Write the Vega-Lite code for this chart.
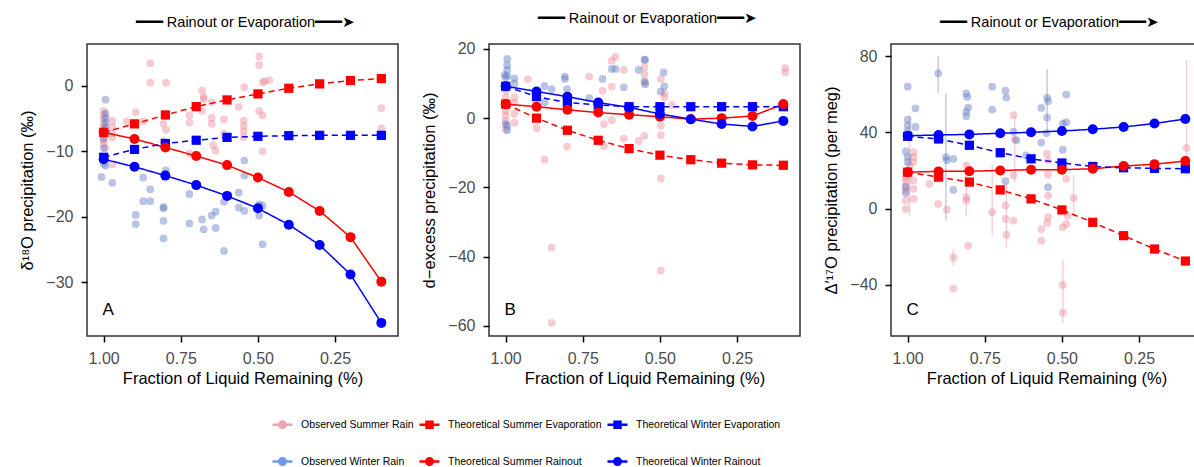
{
  "$schema": "https://vega.github.io/schema/vega-lite/v6.json",
  "background": "white",
  "padding": {"left": 19, "top": 10, "right": 0, "bottom": 0},
  "spacing": 91,
  "bounds": "flush",
  "config": {
    "font": "Liberation Sans",
    "view": {"stroke": "#333333", "strokeWidth": 1.5},
    "axis": {"grid": false, "domain": false, "tickColor": "#000000", "tickSize": 6, "tickWidth": 1.5, "labelFontSize": 16, "labelColor": "#4d4d4d", "labelFont": "Liberation Sans", "titleFont": "Liberation Sans", "titleFontSize": 16.5, "titleFontWeight": "normal", "titleColor": "#000000", "labelPadding": 8, "labelFlush": false},
    "axisY": {"titlePadding": 10},
    "title": {"font": "Liberation Sans", "fontSize": 14.5, "fontWeight": "normal", "color": "#000000", "anchor": "middle", "offset": 14},
    "legend": {"columns": 3, "direction": "horizontal", "padding": 0, "symbolSize": 400, "symbolStrokeWidth": 2.5, "symbolOpacity": 1, "labelFont": "Liberation Sans", "labelFontSize": 10.5, "labelColor": "#000000", "labelOffset": 7, "rowPadding": 17, "columnPadding": 0, "labelLimit": 300}
  },
  "datasets": {
    "theory": [
      {"p":"A","f":1.0,"SE":-7.1,"SR":-7.1,"WE":-10.9,"WR":-11.2},
      {"p":"A","f":0.9,"SE":-5.8,"SR":-8.1,"WE":-9.7,"WR":-12.35},
      {"p":"A","f":0.8,"SE":-4.44,"SR":-9.4,"WE":-8.8,"WR":-13.7},
      {"p":"A","f":0.7,"SE":-3.16,"SR":-10.7,"WE":-8.3,"WR":-15.15},
      {"p":"A","f":0.6,"SE":-2.14,"SR":-12.1,"WE":-7.86,"WR":-16.8},
      {"p":"A","f":0.5,"SE":-1.22,"SR":-14.0,"WE":-7.7,"WR":-18.7},
      {"p":"A","f":0.4,"SE":-0.36,"SR":-16.2,"WE":-7.6,"WR":-21.2},
      {"p":"A","f":0.3,"SE":0.31,"SR":-19.1,"WE":-7.55,"WR":-24.3},
      {"p":"A","f":0.2,"SE":0.82,"SR":-23.1,"WE":-7.55,"WR":-28.8},
      {"p":"A","f":0.1,"SE":1.12,"SR":-29.9,"WE":-7.55,"WR":-36.2},
      {"p":"B","f":1.0,"SE":4.05,"SR":4.05,"WE":9.2,"WR":9.2},
      {"p":"B","f":0.9,"SE":0.0,"SR":3.3,"WE":6.2,"WR":7.7},
      {"p":"B","f":0.8,"SE":-3.5,"SR":2.4,"WE":4.5,"WR":6.2},
      {"p":"B","f":0.7,"SE":-6.4,"SR":1.6,"WE":3.8,"WR":4.5},
      {"p":"B","f":0.6,"SE":-8.8,"SR":1.0,"WE":3.3,"WR":3.1},
      {"p":"B","f":0.5,"SE":-10.7,"SR":0.4,"WE":3.3,"WR":1.2},
      {"p":"B","f":0.4,"SE":-12.0,"SR":-0.3,"WE":3.3,"WR":-0.3},
      {"p":"B","f":0.3,"SE":-13.0,"SR":0.0,"WE":3.3,"WR":-1.7},
      {"p":"B","f":0.2,"SE":-13.5,"SR":0.6,"WE":3.3,"WR":-2.4},
      {"p":"B","f":0.1,"SE":-13.6,"SR":4.05,"WE":3.3,"WR":-0.8},
      {"p":"C","f":1.0,"SE":19.1,"SR":19.1,"WE":37.9,"WR":38.2},
      {"p":"C","f":0.9,"SE":16.5,"SR":19.5,"WE":36.5,"WR":38.6},
      {"p":"C","f":0.8,"SE":13.9,"SR":19.6,"WE":33.2,"WR":38.9},
      {"p":"C","f":0.7,"SE":9.8,"SR":20.0,"WE":29.3,"WR":39.5},
      {"p":"C","f":0.6,"SE":5.1,"SR":20.4,"WE":26.1,"WR":40.0},
      {"p":"C","f":0.5,"SE":-0.7,"SR":20.4,"WE":23.9,"WR":40.7},
      {"p":"C","f":0.4,"SE":-7.2,"SR":20.9,"WE":22.1,"WR":41.6},
      {"p":"C","f":0.3,"SE":-14.2,"SR":22.3,"WE":21.4,"WR":42.8},
      {"p":"C","f":0.2,"SE":-21.2,"SR":23.3,"WE":21.1,"WR":44.6},
      {"p":"C","f":0.1,"SE":-27.5,"SR":24.9,"WE":20.9,"WR":47.0}
    ],
    "labels": [
      {"p":"A","t":"A","f":1.004,"v":-34.2},
      {"p":"B","t":"B","f":1.004,"v":-55.5},
      {"p":"C","t":"C","f":1.004,"v":-53.3}
    ],
    "obs": [
      {"p":"A","s":"OS","f":1.0,"v":-3.8},{"p":"A","s":"OS","f":1.0,"v":-4.5},{"p":"A","s":"OS","f":1.0,"v":-5.1},{"p":"A","s":"OS","f":1.0,"v":-5.8},{"p":"A","s":"OS","f":1.0,"v":-6.3},{"p":"A","s":"OS","f":1.0,"v":-6.9},{"p":"A","s":"OS","f":1.0,"v":-7.5},{"p":"A","s":"OS","f":1.0,"v":-8.3},{"p":"A","s":"OS","f":1.0,"v":-8.8},{"p":"A","s":"OS","f":0.994,"v":-9.5},
      {"p":"A","s":"OS","f":0.972,"v":-5.3},{"p":"A","s":"OS","f":0.972,"v":-6.3},{"p":"A","s":"OS","f":0.972,"v":-7.3},{"p":"A","s":"OS","f":0.972,"v":-7.8},{"p":"A","s":"OS","f":0.972,"v":-12.0},
      {"p":"A","s":"OS","f":0.926,"v":-5.4},{"p":"A","s":"OS","f":0.896,"v":-4.0},{"p":"A","s":"OS","f":0.872,"v":-5.4},{"p":"A","s":"OS","f":0.849,"v":3.47},{"p":"A","s":"OS","f":0.849,"v":0.5},{"p":"A","s":"OS","f":0.798,"v":0.5},
      {"p":"A","s":"OS","f":0.806,"v":-5.8},{"p":"A","s":"OS","f":0.798,"v":-6.7},{"p":"A","s":"OS","f":0.806,"v":-8.4},{"p":"A","s":"OS","f":0.722,"v":-4.5},{"p":"A","s":"OS","f":0.722,"v":-5.6},{"p":"A","s":"OS","f":0.722,"v":-10.3},
      {"p":"A","s":"OS","f":0.681,"v":-0.7},{"p":"A","s":"OS","f":0.676,"v":-1.7},{"p":"A","s":"OS","f":0.676,"v":-2.0},{"p":"A","s":"OS","f":0.681,"v":-3.8},{"p":"A","s":"OS","f":0.65,"v":-2.5},{"p":"A","s":"OS","f":0.65,"v":-4.9},{"p":"A","s":"OS","f":0.65,"v":-5.8},{"p":"A","s":"OS","f":0.645,"v":-9.1},{"p":"A","s":"OS","f":0.637,"v":-9.9},
      {"p":"A","s":"OS","f":0.61,"v":-5.1},{"p":"A","s":"OS","f":0.61,"v":-7.3},{"p":"A","s":"OS","f":0.562,"v":-3.2},{"p":"A","s":"OS","f":0.544,"v":-0.2},{"p":"A","s":"OS","f":0.546,"v":-5.3},{"p":"A","s":"OS","f":0.546,"v":-6.1},{"p":"A","s":"OS","f":0.546,"v":-6.9},{"p":"A","s":"OS","f":0.546,"v":-7.8},
      {"p":"A","s":"OS","f":0.496,"v":4.5},{"p":"A","s":"OS","f":0.496,"v":3.2},{"p":"A","s":"OS","f":0.484,"v":0.56},{"p":"A","s":"OS","f":0.478,"v":0.7},{"p":"A","s":"OS","f":0.463,"v":0.9},{"p":"A","s":"OS","f":0.496,"v":-3.8},{"p":"A","s":"OS","f":0.485,"v":-4.5},{"p":"A","s":"OS","f":0.485,"v":-10.0},
      {"p":"A","s":"OS","f":0.1,"v":-3.4},{"p":"A","s":"OS","f":0.1,"v":-6.5},
      {"p":"A","s":"OW","f":0.994,"v":-2.1},{"p":"A","s":"OW","f":0.994,"v":-4.2},{"p":"A","s":"OW","f":0.994,"v":-4.9},{"p":"A","s":"OW","f":0.994,"v":-5.6},{"p":"A","s":"OW","f":0.994,"v":-6.3},{"p":"A","s":"OW","f":1.0,"v":-8.0},{"p":"A","s":"OW","f":1.0,"v":-9.5},{"p":"A","s":"OW","f":1.0,"v":-11.9},{"p":"A","s":"OW","f":0.994,"v":-12.2},{"p":"A","s":"OW","f":1.007,"v":-13.9},{"p":"A","s":"OW","f":0.972,"v":-14.8},
      {"p":"A","s":"OW","f":0.872,"v":-14.0},{"p":"A","s":"OW","f":0.849,"v":-15.8},{"p":"A","s":"OW","f":0.872,"v":-17.6},{"p":"A","s":"OW","f":0.849,"v":-17.6},{"p":"A","s":"OW","f":0.896,"v":-19.7},{"p":"A","s":"OW","f":0.896,"v":-21.1},
      {"p":"A","s":"OW","f":0.798,"v":-12.9},{"p":"A","s":"OW","f":0.806,"v":-18.5},{"p":"A","s":"OW","f":0.806,"v":-18.7},{"p":"A","s":"OW","f":0.806,"v":-20.6},{"p":"A","s":"OW","f":0.806,"v":-23.3},
      {"p":"A","s":"OW","f":0.722,"v":-16.5},{"p":"A","s":"OW","f":0.722,"v":-21.0},{"p":"A","s":"OW","f":0.681,"v":-20.4},{"p":"A","s":"OW","f":0.676,"v":-21.9},{"p":"A","s":"OW","f":0.65,"v":-19.8},{"p":"A","s":"OW","f":0.637,"v":-19.2},{"p":"A","s":"OW","f":0.637,"v":-21.7},
      {"p":"A","s":"OW","f":0.61,"v":-17.7},{"p":"A","s":"OW","f":0.61,"v":-25.2},{"p":"A","s":"OW","f":0.562,"v":-16.3},{"p":"A","s":"OW","f":0.562,"v":-18.6},{"p":"A","s":"OW","f":0.544,"v":-11.4},{"p":"A","s":"OW","f":0.544,"v":-13.7},{"p":"A","s":"OW","f":0.544,"v":-19.1},
      {"p":"A","s":"OW","f":0.496,"v":-18.1},{"p":"A","s":"OW","f":0.485,"v":-18.3},{"p":"A","s":"OW","f":0.496,"v":-19.8},{"p":"A","s":"OW","f":0.485,"v":-24.2},
      {"p":"B","s":"OS","f":1.0,"v":7.9},{"p":"B","s":"OS","f":1.0,"v":6.0},{"p":"B","s":"OS","f":1.0,"v":3.6},{"p":"B","s":"OS","f":1.0,"v":2.1},{"p":"B","s":"OS","f":1.0,"v":0.7},{"p":"B","s":"OS","f":1.0,"v":-0.8},{"p":"B","s":"OS","f":1.0,"v":-3.2},{"p":"B","s":"OS","f":0.972,"v":6.0},{"p":"B","s":"OS","f":0.972,"v":4.5},{"p":"B","s":"OS","f":0.972,"v":1.2},{"p":"B","s":"OS","f":0.972,"v":-1.3},
      {"p":"B","s":"OS","f":0.928,"v":11.2},{"p":"B","s":"OS","f":0.899,"v":-2.9},{"p":"B","s":"OS","f":0.874,"v":-12.0},{"p":"B","s":"OS","f":0.851,"v":-37.4},{"p":"B","s":"OS","f":0.851,"v":-59.1},{"p":"B","s":"OS","f":0.801,"v":-8.2},
      {"p":"B","s":"OS","f":0.729,"v":12.0},{"p":"B","s":"OS","f":0.686,"v":7.9},{"p":"B","s":"OS","f":0.681,"v":-1.7},{"p":"B","s":"OS","f":0.681,"v":-8.0},{"p":"B","s":"OS","f":0.656,"v":16.6},{"p":"B","s":"OS","f":0.644,"v":17.7},{"p":"B","s":"OS","f":0.656,"v":9.1},{"p":"B","s":"OS","f":0.656,"v":-0.6},
      {"p":"B","s":"OS","f":0.617,"v":13.9},{"p":"B","s":"OS","f":0.617,"v":-5.9},{"p":"B","s":"OS","f":0.569,"v":-6.6},{"p":"B","s":"OS","f":0.55,"v":-5.1},{"p":"B","s":"OS","f":0.55,"v":12.7},{"p":"B","s":"OS","f":0.55,"v":14.7},{"p":"B","s":"OS","f":0.548,"v":10.3},
      {"p":"B","s":"OS","f":0.497,"v":11.3},{"p":"B","s":"OS","f":0.486,"v":7.2},{"p":"B","s":"OS","f":0.486,"v":6.0},{"p":"B","s":"OS","f":0.462,"v":3.8},{"p":"B","s":"OS","f":0.497,"v":-2.2},{"p":"B","s":"OS","f":0.497,"v":-4.9},{"p":"B","s":"OS","f":0.497,"v":-17.4},{"p":"B","s":"OS","f":0.497,"v":-44.0},
      {"p":"B","s":"OS","f":0.094,"v":14.5},{"p":"B","s":"OS","f":0.094,"v":13.2},
      {"p":"B","s":"OW","f":0.995,"v":17.1},{"p":"B","s":"OW","f":0.995,"v":15.3},{"p":"B","s":"OW","f":0.995,"v":13.9},{"p":"B","s":"OW","f":1.003,"v":12.5},{"p":"B","s":"OW","f":0.995,"v":12.2},{"p":"B","s":"OW","f":1.0,"v":11.8},{"p":"B","s":"OW","f":0.972,"v":11.5},{"p":"B","s":"OW","f":0.972,"v":10.0},{"p":"B","s":"OW","f":1.0,"v":-1.7},{"p":"B","s":"OW","f":0.995,"v":-2.2},{"p":"B","s":"OW","f":0.995,"v":-3.5},
      {"p":"B","s":"OW","f":0.874,"v":9.3},{"p":"B","s":"OW","f":0.851,"v":8.4},{"p":"B","s":"OW","f":0.874,"v":4.5},{"p":"B","s":"OW","f":0.808,"v":12.0},{"p":"B","s":"OW","f":0.808,"v":11.3},{"p":"B","s":"OW","f":0.801,"v":8.4},{"p":"B","s":"OW","f":0.729,"v":5.8},{"p":"B","s":"OW","f":0.686,"v":11.3},{"p":"B","s":"OW","f":0.656,"v":14.2},{"p":"B","s":"OW","f":0.644,"v":14.2},{"p":"B","s":"OW","f":0.617,"v":8.9},{"p":"B","s":"OW","f":0.569,"v":13.9},{"p":"B","s":"OW","f":0.55,"v":16.9},{"p":"B","s":"OW","f":0.548,"v":16.8},{"p":"B","s":"OW","f":0.55,"v":10.6},{"p":"B","s":"OW","f":0.548,"v":9.8},{"p":"B","s":"OW","f":0.488,"v":13.2},{"p":"B","s":"OW","f":0.486,"v":9.2},{"p":"B","s":"OW","f":0.497,"v":7.7},
      {"p":"C","s":"OS","f":1.006,"v":16.5},{"p":"C","s":"OS","f":1.006,"v":14.7},{"p":"C","s":"OS","f":1.006,"v":12.1},{"p":"C","s":"OS","f":1.006,"v":9.5},{"p":"C","s":"OS","f":1.006,"v":4.2},{"p":"C","s":"OS","f":1.006,"v":-0.2},{"p":"C","s":"OS","f":0.994,"v":22.6,"lo":-3.7,"hi":49},
      {"p":"C","s":"OS","f":0.981,"v":29.6},{"p":"C","s":"OS","f":0.981,"v":27.0},{"p":"C","s":"OS","f":0.981,"v":24.4},{"p":"C","s":"OS","f":0.981,"v":14.7},{"p":"C","s":"OS","f":0.981,"v":10.4},{"p":"C","s":"OS","f":0.981,"v":5.1},
      {"p":"C","s":"OS","f":0.93,"v":13.0},{"p":"C","s":"OS","f":0.901,"v":2.5},{"p":"C","s":"OS","f":0.873,"v":-0.5},{"p":"C","s":"OS","f":0.852,"v":-25.6,"lo":-30,"hi":-21.3},{"p":"C","s":"OS","f":0.852,"v":-41.9},
      {"p":"C","s":"OS","f":0.81,"v":22.6},{"p":"C","s":"OS","f":0.81,"v":6.0,"lo":-3.9,"hi":24},{"p":"C","s":"OS","f":0.81,"v":4.2},{"p":"C","s":"OS","f":0.804,"v":-19.5},
      {"p":"C","s":"OS","f":0.726,"v":-1.9,"lo":-13.7,"hi":23},{"p":"C","s":"OS","f":0.683,"v":1.6},{"p":"C","s":"OS","f":0.683,"v":-5.4},{"p":"C","s":"OS","f":0.68,"v":-13.7,"lo":-20.6,"hi":13.5},{"p":"C","s":"OS","f":0.653,"v":36.4,"lo":13.5,"hi":48.7},{"p":"C","s":"OS","f":0.657,"v":49},{"p":"C","s":"OS","f":0.657,"v":17.4},{"p":"C","s":"OS","f":0.657,"v":-6.3},
      {"p":"C","s":"OS","f":0.548,"v":28.8},{"p":"C","s":"OS","f":0.545,"v":25.3},{"p":"C","s":"OS","f":0.545,"v":17.9},{"p":"C","s":"OS","f":0.545,"v":6.8},{"p":"C","s":"OS","f":0.545,"v":-4.6},{"p":"C","s":"OS","f":0.548,"v":-7.5},{"p":"C","s":"OS","f":0.567,"v":-10.7},{"p":"C","s":"OS","f":0.567,"v":-16.8},
      {"p":"C","s":"OS","f":0.497,"v":-9.8},{"p":"C","s":"OS","f":0.497,"v":-40.0,"lo":-60,"hi":-27},{"p":"C","s":"OS","f":0.497,"v":-54.6},{"p":"C","s":"OS","f":0.486,"v":15.6},{"p":"C","s":"OS","f":0.481,"v":-3.7},{"p":"C","s":"OS","f":0.486,"v":-8.1},{"p":"C","s":"OS","f":0.462,"v":5.6,"lo":-4,"hi":17.6},
      {"p":"C","s":"OS","f":0.096,"v":31.9,"lo":17.3,"hi":78},
      {"p":"C","s":"OW","f":1.0,"v":63.9},{"p":"C","s":"OW","f":1.0,"v":46.7},{"p":"C","s":"OW","f":1.0,"v":43.7},{"p":"C","s":"OW","f":1.0,"v":40.7},{"p":"C","s":"OW","f":1.006,"v":30.0},{"p":"C","s":"OW","f":1.0,"v":27.0},{"p":"C","s":"OW","f":1.0,"v":24.4},{"p":"C","s":"OW","f":1.006,"v":8.1},{"p":"C","s":"OW","f":1.006,"v":11.2},{"p":"C","s":"OW","f":0.975,"v":52.5},{"p":"C","s":"OW","f":0.975,"v":42.8},
      {"p":"C","s":"OW","f":0.901,"v":70.9,"lo":60.7,"hi":80},{"p":"C","s":"OW","f":0.876,"v":27.0,"lo":-6.3,"hi":60.4},{"p":"C","s":"OW","f":0.873,"v":25.3},{"p":"C","s":"OW","f":0.852,"v":26.1},{"p":"C","s":"OW","f":0.852,"v":9.8},
      {"p":"C","s":"OW","f":0.81,"v":60.4},{"p":"C","s":"OW","f":0.807,"v":58.6},{"p":"C","s":"OW","f":0.804,"v":53.0},{"p":"C","s":"OW","f":0.81,"v":50.7},{"p":"C","s":"OW","f":0.81,"v":48.4},{"p":"C","s":"OW","f":0.726,"v":63.9},{"p":"C","s":"OW","f":0.726,"v":51.9},{"p":"C","s":"OW","f":0.683,"v":61.8},{"p":"C","s":"OW","f":0.68,"v":58.2},{"p":"C","s":"OW","f":0.657,"v":40.4},{"p":"C","s":"OW","f":0.648,"v":35.8},{"p":"C","s":"OW","f":0.683,"v":14.4},{"p":"C","s":"OW","f":0.616,"v":27.9},{"p":"C","s":"OW","f":0.55,"v":39.6},
      {"p":"C","s":"OW","f":0.548,"v":58.1,"lo":39.6,"hi":73},{"p":"C","s":"OW","f":0.545,"v":56.3},{"p":"C","s":"OW","f":0.567,"v":52.8},{"p":"C","s":"OW","f":0.548,"v":47.7},{"p":"C","s":"OW","f":0.567,"v":34.6},{"p":"C","s":"OW","f":0.545,"v":11.2},{"p":"C","s":"OW","f":0.497,"v":44.6},{"p":"C","s":"OW","f":0.486,"v":45.3},{"p":"C","s":"OW","f":0.486,"v":59.8},{"p":"C","s":"OW","f":0.497,"v":30.9}
    ]
  },
  "resolve": {"scale": {"color": "shared", "shape": "shared", "fill": "shared", "stroke": "shared", "strokeDash": "shared"}},
  "hconcat": [
    {
      "width": 311, "height": 292,
      "title": {"text": "━━━   Rainout or Evaporation━━━➤", "dx": 3, "fontSize": 14.5, "font": "Liberation Sans"},
      "encoding": {
        "x": {"field": "f", "type": "quantitative", "scale": {"domain": [0.046, 1.054], "reverse": true, "nice": false, "zero": false}, "axis": {"values": [1, 0.75, 0.5, 0.25], "format": ".2f", "title": "Fraction of Liquid Remaining (%)"}},
        "y": {"field": "v", "type": "quantitative", "scale": {"domain": [-38.2, 6.4], "nice": false, "zero": false}, "axis": {"values": [0, -10, -20, -30], "format": "d", "title": "δ¹⁸O precipitation (‰)"}}
      },
      "layer": [
        {"data": {"name": "obs"}, "transform": [{"filter": "datum.p == 'A'"}], "mark": {"type": "point", "filled": true, "size": 60, "opacity": 0.45, "shape": "circle"},
         "encoding": {"fill": {"field": "s", "type": "nominal", "legend": null, "scale": {"domain": ["OS","OW","SE","SR","WE","WR"], "range": ["#EC8C9B","#647DC3","#FF0000","#FF0000","#0000FF","#0000FF"]}}}},
        {"data": {"name": "theory"}, "transform": [{"filter": "datum.p == 'A'"}, {"fold": ["SE","SR","WE","WR"], "as": ["s","v"]}], "mark": {"type": "line", "strokeWidth": 1.5},
         "encoding": {"stroke": {"field": "s", "type": "nominal", "legend": null, "scale": {"domain": ["SE","SR","WE","WR"], "range": ["#FF0000","#FF0000","#0000FF","#0000FF"]}},
                      "strokeDash": {"field": "s", "type": "nominal", "scale": {"domain": ["SE","SR","WE","WR"], "range": [[6,4],[1,0],[6,4],[1,0]]}, "legend": null}}},
        {"data": {"name": "theory"}, "transform": [{"filter": "datum.p == 'A'"}, {"fold": ["SE","SR","WE","WR"], "as": ["s","v"]}, {"filter": "datum.s == 'SE' || datum.s == 'WE'"}], "mark": {"type": "point", "filled": true, "size": 85, "opacity": 1, "shape": "square"},
         "encoding": {"fill": {"field": "s", "type": "nominal", "legend": null}}},
        {"data": {"name": "theory"}, "transform": [{"filter": "datum.p == 'A'"}, {"fold": ["SE","SR","WE","WR"], "as": ["s","v"]}, {"filter": "datum.s == 'SR' || datum.s == 'WR'"}], "mark": {"type": "point", "filled": true, "size": 100, "opacity": 1, "shape": "circle"},
         "encoding": {"fill": {"field": "s", "type": "nominal", "legend": null}}},
        {"data": {"name": "obs"}, "transform": [{"filter": "false"}], "mark": {"type": "point", "filled": false, "opacity": 1},
         "encoding": {
           "color": {"field": "s", "type": "nominal", "scale": {"domain": ["OS","SE","WE","OW","SR","WR"], "range": ["#EFA5B0","#FF0000","#0000FF","#6F9BE6","#FF0000","#0000FF"]},
             "legend": {"title": null, "orient": "none", "legendX": 184, "legendY": 369, "labelExpr": "datum.value == 'OS' ? 'Observed Summer Rain' : datum.value == 'OW' ? 'Observed Winter Rain' : datum.value == 'SE' ? 'Theoretical Summer Evaporation' : datum.value == 'WE' ? 'Theoretical Winter Evaporation' : datum.value == 'SR' ? 'Theoretical Summer Rainout' : 'Theoretical Winter Rainout'"}},
           "shape": {"field": "s", "type": "nominal", "scale": {"domain": ["OS","SE","WE","OW","SR","WR"], "range": [
             "M-1,0H1M0.32,0A0.32,0.32,0,1,1,-0.32,0A0.32,0.32,0,1,1,0.32,0M0.2,0A0.2,0.2,0,1,1,-0.2,0A0.2,0.2,0,1,1,0.2,0M0.08,0A0.08,0.08,0,1,1,-0.08,0A0.08,0.08,0,1,1,0.08,0",
             "M-1,0H1M-0.3,-0.3H0.3V0.3H-0.3ZM-0.18,-0.18H0.18V0.18H-0.18ZM-0.06,-0.06H0.06V0.06H-0.06Z",
             "M-1,0H1M-0.3,-0.3H0.3V0.3H-0.3ZM-0.18,-0.18H0.18V0.18H-0.18ZM-0.06,-0.06H0.06V0.06H-0.06Z",
             "M-1,0H1M0.32,0A0.32,0.32,0,1,1,-0.32,0A0.32,0.32,0,1,1,0.32,0M0.2,0A0.2,0.2,0,1,1,-0.2,0A0.2,0.2,0,1,1,0.2,0M0.08,0A0.08,0.08,0,1,1,-0.08,0A0.08,0.08,0,1,1,0.08,0",
             "M-1,0H1M0.32,0A0.32,0.32,0,1,1,-0.32,0A0.32,0.32,0,1,1,0.32,0M0.2,0A0.2,0.2,0,1,1,-0.2,0A0.2,0.2,0,1,1,0.2,0M0.08,0A0.08,0.08,0,1,1,-0.08,0A0.08,0.08,0,1,1,0.08,0",
             "M-1,0H1M0.32,0A0.32,0.32,0,1,1,-0.32,0A0.32,0.32,0,1,1,0.32,0M0.2,0A0.2,0.2,0,1,1,-0.2,0A0.2,0.2,0,1,1,0.2,0M0.08,0A0.08,0.08,0,1,1,-0.08,0A0.08,0.08,0,1,1,0.08,0"]},
             "legend": {"title": null, "orient": "none", "legendX": 184, "legendY": 369, "labelExpr": "datum.value == 'OS' ? 'Observed Summer Rain' : datum.value == 'OW' ? 'Observed Winter Rain' : datum.value == 'SE' ? 'Theoretical Summer Evaporation' : datum.value == 'WE' ? 'Theoretical Winter Evaporation' : datum.value == 'SR' ? 'Theoretical Summer Rainout' : 'Theoretical Winter Rainout'"}}
         }},
        {"data": {"name": "labels"}, "transform": [{"filter": "datum.p == 'A'"}], "mark": {"type": "text", "align": "left", "baseline": "middle", "fontSize": 17, "color": "#000000"},
         "encoding": {"text": {"field": "t", "type": "nominal"}}}
      ]
    },
    {
      "width": 311, "height": 292,
      "title": {"text": "━━━   Rainout or Evaporation━━━➤", "dx": 3, "fontSize": 14.5, "font": "Liberation Sans"},
      "encoding": {
        "x": {"field": "f", "type": "quantitative", "scale": {"domain": [0.046, 1.054], "reverse": true, "nice": false, "zero": false}, "axis": {"values": [1, 0.75, 0.5, 0.25], "format": ".2f", "title": "Fraction of Liquid Remaining (%)"}},
        "y": {"field": "v", "type": "quantitative", "scale": {"domain": [-62.9, 21.4], "nice": false, "zero": false}, "axis": {"values": [20, 0, -20, -40, -60], "format": "d", "title": "d−excess precipitation (‰)"}}
      },
      "layer": [
        {"data": {"name": "obs"}, "transform": [{"filter": "datum.p == 'B'"}], "mark": {"type": "point", "filled": true, "size": 60, "opacity": 0.45, "shape": "circle"},
         "encoding": {"fill": {"field": "s", "type": "nominal", "legend": null}}},
        {"data": {"name": "theory"}, "transform": [{"filter": "datum.p == 'B'"}, {"fold": ["SE","SR","WE","WR"], "as": ["s","v"]}], "mark": {"type": "line", "strokeWidth": 1.5},
         "encoding": {"stroke": {"field": "s", "type": "nominal", "legend": null}, "strokeDash": {"field": "s", "type": "nominal", "legend": null}}},
        {"data": {"name": "theory"}, "transform": [{"filter": "datum.p == 'B'"}, {"fold": ["SE","SR","WE","WR"], "as": ["s","v"]}, {"filter": "datum.s == 'SE' || datum.s == 'WE'"}], "mark": {"type": "point", "filled": true, "size": 85, "opacity": 1, "shape": "square"},
         "encoding": {"fill": {"field": "s", "type": "nominal", "legend": null}}},
        {"data": {"name": "theory"}, "transform": [{"filter": "datum.p == 'B'"}, {"fold": ["SE","SR","WE","WR"], "as": ["s","v"]}, {"filter": "datum.s == 'SR' || datum.s == 'WR'"}], "mark": {"type": "point", "filled": true, "size": 100, "opacity": 1, "shape": "circle"},
         "encoding": {"fill": {"field": "s", "type": "nominal", "legend": null}}},
        {"data": {"name": "labels"}, "transform": [{"filter": "datum.p == 'B'"}], "mark": {"type": "text", "align": "left", "baseline": "middle", "fontSize": 17, "color": "#000000"},
         "encoding": {"text": {"field": "t", "type": "nominal"}}}
      ]
    },
    {
      "width": 311, "height": 292,
      "title": {"text": "━━━   Rainout or Evaporation━━━➤", "dx": 3, "fontSize": 14.5, "font": "Liberation Sans"},
      "encoding": {
        "x": {"field": "f", "type": "quantitative", "scale": {"domain": [0.046, 1.054], "reverse": true, "nice": false, "zero": false}, "axis": {"values": [1, 0.75, 0.5, 0.25], "format": ".2f", "title": "Fraction of Liquid Remaining (%)"}},
        "y": {"field": "v", "type": "quantitative", "scale": {"domain": [-66.8, 86.3], "nice": false, "zero": false}, "axis": {"values": [80, 40, 0, -40], "format": "d", "title": "Δ′¹⁷O precipitation (per meg)"}}
      },
      "layer": [
        {"data": {"name": "obs"}, "transform": [{"filter": "datum.p == 'C' && datum.s == 'OS' && isValid(datum.lo)"}], "mark": {"type": "rule", "strokeWidth": 1.5, "opacity": 0.4, "color": "#EC8C9B"},
         "encoding": {"y": {"field": "lo", "type": "quantitative"}, "y2": {"field": "hi"}}},
        {"data": {"name": "obs"}, "transform": [{"filter": "datum.p == 'C' && datum.s == 'OW' && isValid(datum.lo)"}], "mark": {"type": "rule", "strokeWidth": 1.5, "opacity": 0.4, "color": "#647DC3"},
         "encoding": {"y": {"field": "lo", "type": "quantitative"}, "y2": {"field": "hi"}}},
        {"data": {"name": "obs"}, "transform": [{"filter": "datum.p == 'C'"}], "mark": {"type": "point", "filled": true, "size": 60, "opacity": 0.45, "shape": "circle"},
         "encoding": {"fill": {"field": "s", "type": "nominal", "legend": null}}},
        {"data": {"name": "theory"}, "transform": [{"filter": "datum.p == 'C'"}, {"fold": ["SE","SR","WE","WR"], "as": ["s","v"]}], "mark": {"type": "line", "strokeWidth": 1.5},
         "encoding": {"stroke": {"field": "s", "type": "nominal", "legend": null}, "strokeDash": {"field": "s", "type": "nominal", "legend": null}}},
        {"data": {"name": "theory"}, "transform": [{"filter": "datum.p == 'C'"}, {"fold": ["SE","SR","WE","WR"], "as": ["s","v"]}, {"filter": "datum.s == 'SE' || datum.s == 'WE'"}], "mark": {"type": "point", "filled": true, "size": 85, "opacity": 1, "shape": "square"},
         "encoding": {"fill": {"field": "s", "type": "nominal", "legend": null}}},
        {"data": {"name": "theory"}, "transform": [{"filter": "datum.p == 'C'"}, {"fold": ["SE","SR","WE","WR"], "as": ["s","v"]}, {"filter": "datum.s == 'SR' || datum.s == 'WR'"}], "mark": {"type": "point", "filled": true, "size": 100, "opacity": 1, "shape": "circle"},
         "encoding": {"fill": {"field": "s", "type": "nominal", "legend": null}}},
        {"data": {"name": "labels"}, "transform": [{"filter": "datum.p == 'C'"}], "mark": {"type": "text", "align": "left", "baseline": "middle", "fontSize": 17, "color": "#000000"},
         "encoding": {"text": {"field": "t", "type": "nominal"}}}
      ]
    }
  ]
}
